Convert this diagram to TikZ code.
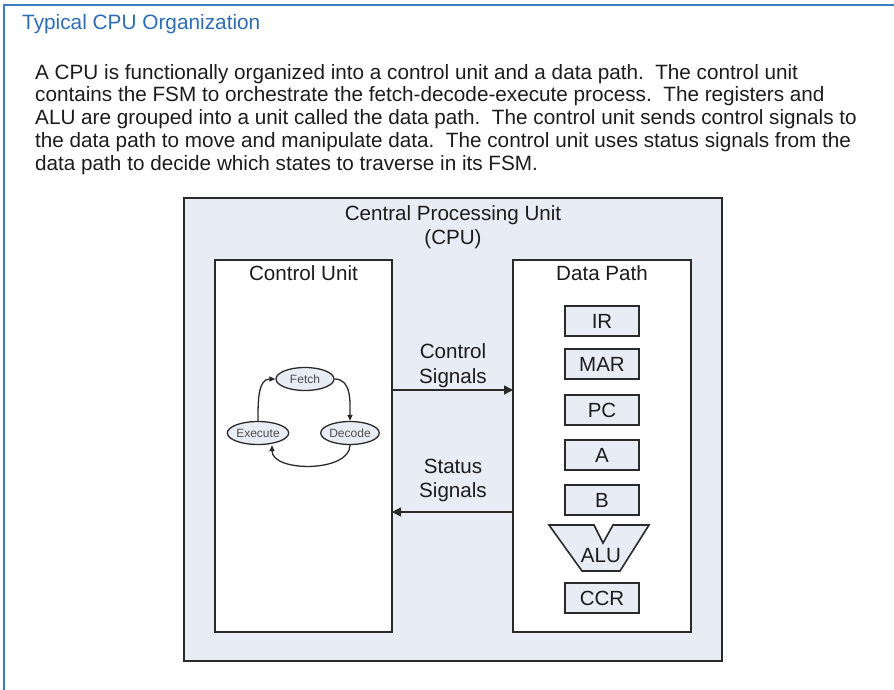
\documentclass[tikz,border=0pt]{standalone}
\usepackage{fontspec}
\setmainfont{Liberation Sans}
\usetikzlibrary{arrows.meta,calc,shapes.geometric}
\definecolor{frameblue}{HTML}{3C7CC4}
\definecolor{titleblue}{HTML}{2E6DB4}
\definecolor{cpufill}{HTML}{E8ECF5}
\definecolor{edge}{HTML}{2A2A2A}
\definecolor{txt}{HTML}{1C1C1C}
\tikzset{
  unitbox/.style={draw=edge, line width=1.8pt, fill=white},
  reg/.style={draw=edge, line width=1.6pt, fill=cpufill, minimum width=74pt, minimum height=30pt, inner sep=0pt, font=\fontsize{20.5}{23}\selectfont, text=txt},
  st/.style={ellipse, draw=edge, line width=1.3pt, fill=cpufill, minimum width=58pt, minimum height=23pt, inner sep=0pt, font=\fontsize{12}{14}\selectfont, text=black!70},
  lbl/.style={font=\fontsize{20.6}{24.5}\selectfont, text=txt, align=center},
  sig/.style={line width=1.4pt, draw=edge, -{Triangle[length=9pt,width=9pt]}},
  fsm/.style={line width=1.3pt, draw=edge, -{Triangle[length=6pt,width=5pt]}},
}
\begin{document}
\begin{tikzpicture}[x=1pt,y=-1pt]
\useasboundingbox (0,0) rectangle (894,690);
% outer frame
\draw[frameblue, line width=2.2pt] (4,690) -- (4,5) -- (894,5);
\node[anchor=base west, text=titleblue, font=\fontsize{20.8}{24}\selectfont, inner sep=0pt] (title) at (22,30) {Typical CPU Organization};
\node[anchor=north west, text=txt, font=\fontsize{20.7}{22.75}\selectfont, align=left, inner sep=0pt] (para) at (35,64) {A CPU is functionally organized into a control unit and a data path.\ \ The control unit\\
contains the FSM to orchestrate the fetch-decode-execute process.\ \ The registers and\\
ALU are grouped into a unit called the data path.\ \ The control unit sends control signals to\\
the data path to move and manipulate data.\ \ The control unit uses status signals from the\\
data path to decide which states to traverse in its FSM.};
% CPU box
\draw[draw=edge, line width=1.8pt, fill=cpufill] (184,198) rectangle (722,661);
\node[lbl] (cpu) at (453,227) {Central Processing Unit\\(CPU)};
% control unit
\draw[unitbox] (215,260) rectangle (392,632);
\node[lbl] (cu) at (303.5,273) {Control Unit};
% data path
\draw[unitbox] (513,260) rectangle (691,632);
\node[lbl] (dp) at (602,273) {Data Path};
% registers
\node[reg] (ir) at (602,321) {IR};
\node[reg] (mar) at (602,364) {MAR};
\node[reg] (pc) at (602,410) {PC};
\node[reg] (a) at (602,455) {A};
\node[reg] (b) at (602,500) {B};
\draw[draw=edge, line width=1.6pt, fill=cpufill] (549,525) -- (594,525) -- (603,543) -- (613,525) -- (649,525) -- (620,571) -- (582,571) -- cycle;
\node[lbl] (alu) at (601,556) {ALU};
\node[reg] (ccr) at (602,598) {CCR};
% signals
\coordinate (cs1) at (392,390);
\coordinate (cs2) at (513,390);
\draw[sig] (cs1) -- (cs2);
\node[lbl] (cslbl) at (453,365.5) {Control\\Signals};
\coordinate (ss1) at (513,512);
\coordinate (ss2) at (392,512);
\draw[sig] (ss1) -- (ss2);
\node[lbl] (sslbl) at (453,480.5) {Status\\Signals};
% FSM
\node[st] (fetch) at (305,379) {Fetch};
\node[st] (exec) at (258,433) {Execute};
\node[st] (dec) at (350,433) {Decode};
\draw[fsm] (fetch.east) to[out=0,in=90] (dec.north);
\draw[fsm] (dec.south) to[out=-90,in=-90,looseness=0.9] ($(exec.south)+(14,0)$);
\draw[fsm] (exec.north) to[out=90,in=180] (fetch.west);
\end{tikzpicture}
\end{document}
